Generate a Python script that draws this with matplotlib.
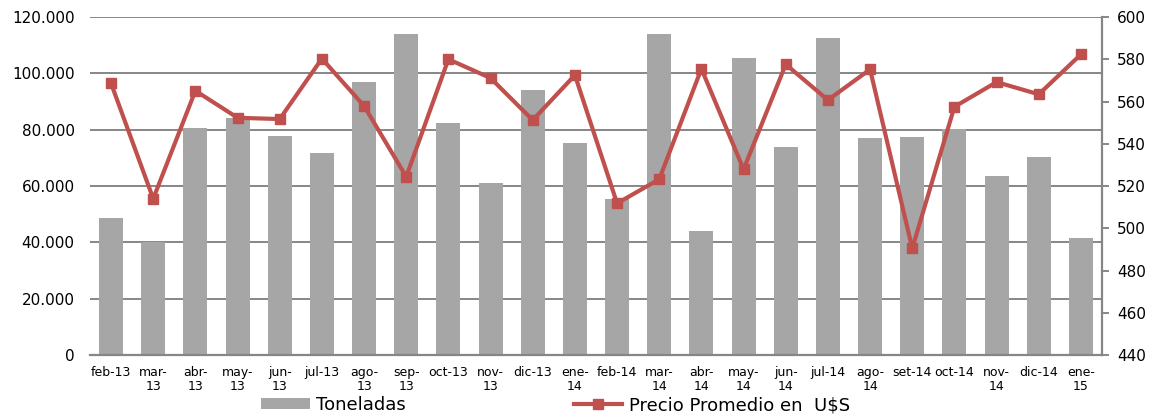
import numpy as np
import matplotlib
matplotlib.use("Agg")
import matplotlib.pyplot as plt
from matplotlib.ticker import FuncFormatter

# Datos
meses = ["feb-13", "mar-\n13", "abr-\n13", "may-\n13", "jun-\n13", "jul-13", "ago-\n13", "sep-\n13",
         "oct-13", "nov-\n13", "dic-13", "ene-\n14", "feb-14", "mar-\n14", "abr-\n14", "may-\n14",
         "jun-\n14", "jul-14", "ago-\n14", "set-14", "oct-14", "nov-\n14", "dic-14", "ene-\n15"]
toneladas = [48500, 40200, 80700, 84200, 77700, 71800, 97000, 114000,
             82200, 61000, 94200, 75400, 55500, 114000, 44200, 105400,
             73700, 112500, 77100, 77400, 80100, 63600, 70300, 41400]
precio = [568.6, 514.0, 565.1, 552.3, 551.7, 580.3, 557.9, 524.4,
          580.0, 571.1, 551.2, 572.5, 511.8, 523.2, 575.5, 527.9,
          577.6, 560.7, 575.2, 490.5, 557.5, 569.2, 563.4, 582.3]

plt.rcParams['font.family'] = ['DejaVu Sans']

fig = plt.figure(figsize=(11.52, 4.18), dpi=100)
ax = fig.add_axes([0.0781, 0.1507, 0.8785, 0.8086])
x = np.arange(len(meses))

barras = ax.bar(x, toneladas, width=0.57, color="#A6A6A6", label="Toneladas", zorder=2)
ax.set_ylim(0, 120000)
ax.set_yticks(np.arange(0, 120001, 20000))
ax.yaxis.set_major_formatter(FuncFormatter(lambda v, p: f"{int(v):,}".replace(",", ".")))
ax.grid(axis="y", color="#868686", linewidth=1.4)
ax.set_axisbelow(True)
ax.set_xlim(-0.5, len(meses) - 0.5)
ax.set_xticks(x)
ax.set_xticklabels(meses, fontsize=9, linespacing=1.05)
ax.tick_params(axis="x", length=0, pad=8)
ax.tick_params(axis="y", length=0, pad=11, labelsize=11)
for s in ["left", "top", "right"]:
    ax.spines[s].set_visible(False)
ax.spines["bottom"].set_color("#868686")
ax.spines["bottom"].set_linewidth(1.6)

ax2 = ax.twinx()
linea, = ax2.plot(x, precio, color="#C0504D", linewidth=3, marker="s", markersize=6.5,
                  label="Precio Promedio en  U$S", zorder=3)
ax2.set_ylim(440, 600)
ax2.set_yticks(np.arange(440, 601, 20))
ax2.tick_params(axis="y", length=5, width=1.4, color="#868686", pad=6, labelsize=11)
for s in ["left", "top", "bottom"]:
    ax2.spines[s].set_visible(False)
ax2.spines["right"].set_color("#868686")
ax2.spines["right"].set_linewidth(1.6)

fig.legend([barras, linea], ["Toneladas", "Precio Promedio en  U$S"], loc="center",
           bbox_to_anchor=(0.482, 0.031), ncol=2, frameon=False, fontsize=13,
           handlelength=2.7, handleheight=0.55, handletextpad=0.35, columnspacing=9.3,
           borderaxespad=0)

fig.savefig("out.png", dpi=100)
